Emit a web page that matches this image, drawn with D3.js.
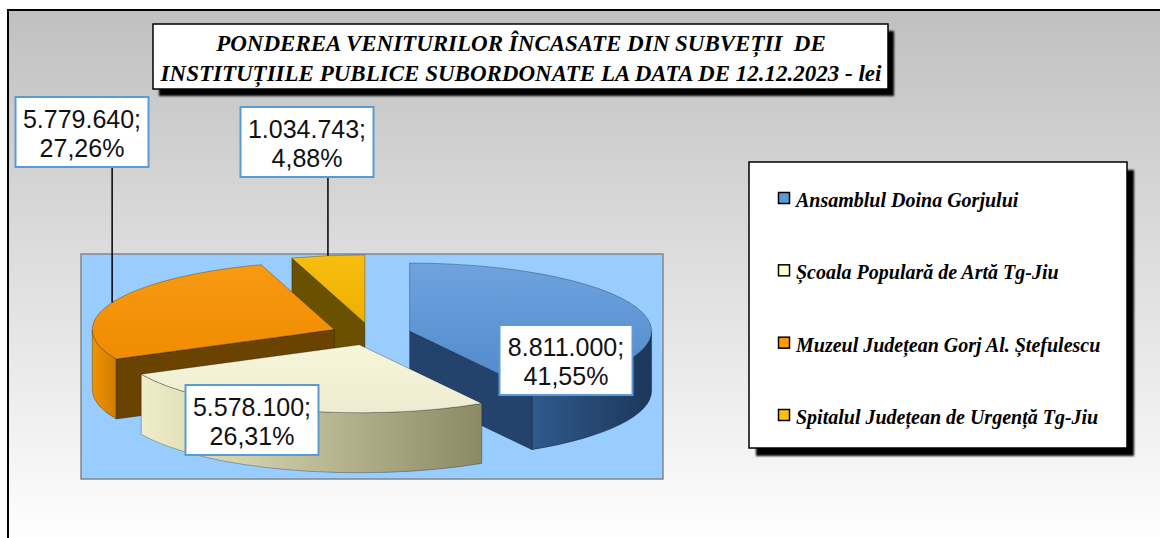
<!DOCTYPE html>
<html>
<head>
<meta charset="utf-8">
<script src="https://cdn.jsdelivr.net/npm/d3@7"></script>
<style>
  body { margin: 0; background: #fff; }
  svg { display: block; }
  .serif { font-family: "Liberation Serif", "Times New Roman", serif; font-weight: bold; font-style: italic; white-space: pre; }
  .sans { font-family: "Liberation Sans", Arial, sans-serif; }
</style>
</head>
<body>
<script>
var width = 1160;
var height = 538;

// data
var categories = [
  "Ansamblul Doina Gorjului",
  "Școala Populară de Artă Tg-Jiu",
  "Muzeul Județean Gorj Al. Ștefulescu",
  "Spitalul Județean de Urgență Tg-Jiu"
];
var values = [8811000, 5578100, 5779640, 1034743];
var titleLines = [
  "PONDEREA VENITURILOR ÎNCASATE DIN SUBVEȚII  DE",
  "INSTITUȚIILE PUBLICE SUBORDONATE LA DATA DE 12.12.2023 - lei"
];

// colours
var legendColors = ["#5b9bd5", "#ffffcc", "#ff9900", "#ffc000"];
var topColors = [["#6ea3df", "#5089c9"], ["#f8f6da", "#eeecd0"], ["#f79a12", "#f08c00"], ["#f7bd10", "#eeb000"]];
var sideColors = [["#2f5a8c", "#1c375a"], ["#f0eec8", "#8c8a64"], ["#f29400", "#cf7c00"], ["#e0a800", "#a07800"]];
var wallColors = ["#24436c", "#a8a680", "#6b4300", "#6a5100"];

// label layout: box centre and whether a leader line is drawn
var labelPos = [[566, 360], [252, 420], [82, 132], [307, 142]];
var labelLeader = [false, false, true, true];

var ro = d3.formatLocale({ decimal: ",", thousands: ".", grouping: [3], currency: ["", " lei"] });
var fmtValue = ro.format(",d");
var fmtPct = ro.format(".2%");

var svg = d3.select("body").append("svg")
  .attr("width", width)
  .attr("height", height);

var defs = svg.append("defs");

var bg = defs.append("linearGradient").attr("id", "bg")
  .attr("x1", 0).attr("y1", 0).attr("x2", 0).attr("y2", 1);
bg.append("stop").attr("offset", 0).attr("stop-color", "#c0c0c0");
bg.append("stop").attr("offset", 1).attr("stop-color", "#ffffff");

var blur = defs.append("filter").attr("id", "shadow");
blur.append("feGaussianBlur").attr("stdDeviation", 1.2);

function grad(id, c, vertical) {
  var g = defs.append("linearGradient").attr("id", id)
    .attr("x1", 0).attr("y1", 0)
    .attr("x2", vertical ? 0 : 1).attr("y2", vertical ? 1 : 0);
  g.append("stop").attr("offset", 0).attr("stop-color", c[0]);
  g.append("stop").attr("offset", 1).attr("stop-color", c[1]);
}
values.forEach(function(v, i) {
  grad("top" + i, topColors[i], true);
  grad("side" + i, sideColors[i], false);
});

// chart area
svg.append("rect")
  .attr("x", 8).attr("y", 10)
  .attr("width", width).attr("height", height)
  .attr("fill", "url(#bg)")
  .attr("stroke", "#000").attr("stroke-width", 2);

// plot area
svg.append("rect")
  .attr("x", 81).attr("y", 254)
  .attr("width", 582).attr("height", 225)
  .attr("fill", "#99ccff")
  .attr("stroke", "#868686").attr("stroke-width", 1.5);

// 3D pie
var cx = 371, cy = 334, rx = 242, ry = 68, depth = 60, explode = 40;

var arcs = d3.pie().sort(null).value(function(d) { return d; })(values);
var total = d3.sum(values);

function pt(a, ox, oy, z) {
  return [ox + rx * Math.sin(a), oy - ry * Math.cos(a) + z];
}

var slices = arcs.map(function(p, i) {
  var m = (p.startAngle + p.endAngle) / 2;
  return {
    i: i, a0: p.startAngle, a1: p.endAngle, mid: m,
    ox: cx + explode * Math.sin(m),
    oy: cy - explode * (ry / rx) * Math.cos(m)
  };
});

function topPath(s) {
  var large = s.a1 - s.a0 > Math.PI ? 1 : 0;
  return "M" + s.ox + "," + s.oy + "L" + pt(s.a0, s.ox, s.oy, 0) +
    "A" + rx + "," + ry + " 0 " + large + " 1 " + pt(s.a1, s.ox, s.oy, 0) + "Z";
}

function sidePath(s) {
  var a = Math.max(s.a0, Math.PI / 2), b = Math.min(s.a1, 3 * Math.PI / 2);
  if (a >= b) return null;
  return "M" + pt(a, s.ox, s.oy, 0) +
    "A" + rx + "," + ry + " 0 0 1 " + pt(b, s.ox, s.oy, 0) +
    "L" + pt(b, s.ox, s.oy, depth) +
    "A" + rx + "," + ry + " 0 0 0 " + pt(a, s.ox, s.oy, depth) + "Z";
}

function wallPath(s, a) {
  return "M" + s.ox + "," + s.oy + "L" + pt(a, s.ox, s.oy, 0) +
    "L" + pt(a, s.ox, s.oy, depth) + "L" + s.ox + "," + (s.oy + depth) + "Z";
}

var pieG = svg.append("g");
slices.slice()
  .sort(function(a, b) { return -Math.cos(a.mid) - -Math.cos(b.mid); })
  .forEach(function(s) {
    var g = pieG.append("g");
    var sp = sidePath(s);
    if (sp) g.append("path").attr("d", sp).attr("fill", "url(#side" + s.i + ")")
      .attr("stroke", "rgba(0,0,0,0.35)").attr("stroke-width", 0.8);
    if (Math.sin(s.a0) < -1e-6) g.append("path").attr("d", wallPath(s, s.a0))
      .attr("fill", wallColors[s.i]).attr("stroke", "rgba(0,0,0,0.35)").attr("stroke-width", 0.8);
    if (Math.sin(s.a1) > 1e-6) g.append("path").attr("d", wallPath(s, s.a1))
      .attr("fill", wallColors[s.i]).attr("stroke", "rgba(0,0,0,0.35)").attr("stroke-width", 0.8);
    g.append("path").attr("d", topPath(s)).attr("fill", "url(#top" + s.i + ")")
      .attr("stroke", "rgba(0,0,0,0.35)").attr("stroke-width", 0.8);
  });

// data labels
var boxW = 133, boxH = 70;
slices.forEach(function(s, i) {
  var c = labelPos[i];
  if (labelLeader[i]) {
    var rim = pt(s.mid, s.ox, s.oy, 0);
    svg.append("line")
      .attr("x1", rim[0]).attr("x2", rim[0])
      .attr("y1", c[1] + boxH / 2).attr("y2", rim[1])
      .attr("stroke", "#000").attr("stroke-width", 1.5);
  }
  svg.append("rect")
    .attr("x", c[0] - boxW / 2).attr("y", c[1] - boxH / 2)
    .attr("width", boxW).attr("height", boxH)
    .attr("fill", "#fff")
    .attr("stroke", "#5b9bd5").attr("stroke-width", 2);
  var t = svg.append("text").attr("class", "sans")
    .attr("text-anchor", "middle")
    .attr("font-size", 25)
    .attr("fill", "#111");
  t.append("tspan").attr("x", c[0]).attr("y", c[1] - 4).text(fmtValue(values[i]) + ";");
  t.append("tspan").attr("x", c[0]).attr("y", c[1] + 25).text(fmtPct(values[i] / total));
});

// title
svg.append("rect").attr("x", 159).attr("y", 31).attr("width", 735).attr("height", 65)
  .attr("fill", "#000").attr("filter", "url(#shadow)");
svg.append("rect").attr("x", 153).attr("y", 24).attr("width", 735).attr("height", 65)
  .attr("fill", "#fff").attr("stroke", "#000").attr("stroke-width", 1.5);
titleLines.forEach(function(line, i) {
  svg.append("text").attr("class", "serif")
    .attr("x", 521).attr("y", 51 + i * 30)
    .attr("text-anchor", "middle")
    .attr("font-size", 23)
    .attr("fill", "#000")
    .text(line);
});

// legend
svg.append("rect").attr("x", 756).attr("y", 170).attr("width", 378).attr("height", 286)
  .attr("fill", "#000").attr("filter", "url(#shadow)");
svg.append("rect").attr("x", 749).attr("y", 162).attr("width", 378).attr("height", 286)
  .attr("fill", "#fff").attr("stroke", "#000").attr("stroke-width", 1.5);

var legendY = d3.scalePoint().domain(categories).range([207, 424]);
var items = svg.selectAll(".legend-item").data(categories)
  .enter().append("g").attr("class", "legend-item")
  .attr("transform", function(d) { return "translate(0," + legendY(d) + ")"; });
items.append("rect")
  .attr("x", 778.5).attr("y", -14.5).attr("width", 11).attr("height", 11)
  .attr("fill", function(d, i) { return legendColors[i]; })
  .attr("stroke", "#000").attr("stroke-width", 1.5);
items.append("text").attr("class", "serif")
  .attr("x", 796).attr("y", 0)
  .attr("font-size", 20)
  .text(function(d) { return d; });
</script>
</body>
</html>
